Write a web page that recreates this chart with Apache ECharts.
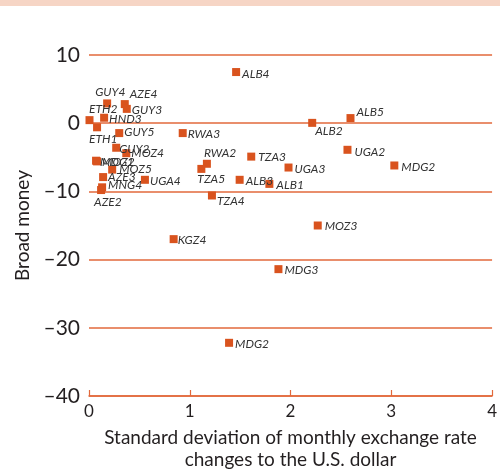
<!DOCTYPE html>
<html>
<head>
<meta charset="utf-8">
<script src="https://cdn.jsdelivr.net/npm/echarts@6/dist/echarts.min.js"></script>
<style>
html,body{margin:0;padding:0;background:#fff;}
#chart{width:500px;height:476px;}
</style>
</head>
<body>
<div id="chart"></div>
<script>
// ---- Data ----
const names = ['ALB4','GUY4','AZE4','GUY3','ETH2','HND3','ETH1','GUY5','RWA3','GUY2','MOZ4','MDG1','MOZ2','MOZ5','AZE3','MNG4','AZE2','UGA4','RWA2','TZA5','TZA3','ALB3','ALB1','UGA3','TZA4','ALB2','ALB5','UGA2','MDG2','KGZ4','MDG3','MDG2','MOZ3'];
const exchangeSD = [1.46,0.18,0.355,0.375,0.005,0.15,0.08,0.30,0.93,0.27,0.37,0.07,0.08,0.23,0.14,0.13,0.12,0.555,1.17,1.115,1.61,1.495,1.79,1.98,1.22,2.215,2.595,2.565,3.03,0.84,1.88,1.39,2.27];
const broadMoney = [7.5,2.9,2.8,2.1,0.45,0.8,-0.6,-1.45,-1.45,-3.6,-4.4,-5.5,-5.6,-6.8,-7.9,-9.4,-9.8,-8.3,-5.95,-6.7,-4.9,-8.3,-8.9,-6.5,-10.6,0.05,0.75,-3.9,-6.2,-17.0,-21.4,-32.2,-15.0];
const xTicks = [0,1,2,3,4];
const yTicks = [-40,-30,-20,-10,0,10];
const xTitle = 'Standard deviation of monthly exchange rate\nchanges to the U.S. dollar';
const yTitle = 'Broad money';

// ---- Label nudges (styling only) ----
const labelNudge = [[-1,2],[-19,-11],[-2,-9.5],[-2,1.5],[-7.5,-11],[-2,1.5],[-15,12],[-2,-1],[-2,1],[-4,1],[-2,0],[-3,1],[-2,1],[0,0],[-2,0],[-1,-2],[-14,12],[-2,1],[-10,-11],[-11,10],[0,1],[-1,1],[0,1.5],[-1,2],[-2,6],[-4,8.5],[-1,-6],[0,2],[0,1.5],[-3,1],[-1,1],[-1,1],[0,1]];

const orange = '#e2693b';
const chart = echarts.init(document.getElementById('chart'));
const pts = names.map((n,i)=>({
  name:n,
  value:[exchangeSD[i],broadMoney[i]],
  label:{offset:labelNudge[i]}
}));
chart.setOption({
  animation:false,
  backgroundColor:'#fff',
  graphic:[{type:'rect',left:0,top:0,shape:{width:500,height:6},style:{fill:'#f6d5c5'},z:-1}],
  grid:{left:89,right:1,top:55,bottom:77,containLabel:false},
  xAxis:{
    type:'value',min:xTicks[0],max:xTicks[xTicks.length-1],interval:1,
    axisLine:{show:true,onZero:false,lineStyle:{color:orange,width:1.5}},
    axisTick:{show:true,inside:true,length:6,lineStyle:{color:orange,width:1.2}},
    splitLine:{show:false},
    axisLabel:{color:'#231f20',fontSize:17,fontFamily:'Lato',margin:7},
    name:xTitle,nameLocation:'middle',nameGap:31,
    nameTextStyle:{color:'#231f20',fontSize:19,fontFamily:'Lato',lineHeight:22}
  },
  yAxis:{
    type:'value',min:yTicks[0],max:yTicks[yTicks.length-1],interval:10,
    axisLine:{show:false},axisTick:{show:false},
    splitLine:{show:true,lineStyle:{color:orange,width:1.5}},
    axisLabel:{color:'#231f20',fontSize:21,fontFamily:'Lato',margin:9,
      formatter:v=>String(v).replace('-','\u2013')},
    name:yTitle,nameLocation:'middle',nameGap:56,
    nameTextStyle:{color:'#231f20',fontSize:19,fontFamily:'Lato'}
  },
  series:[{
    type:'scatter',
    symbol:'rect',symbolSize:8,
    itemStyle:{color:'#d9531e',opacity:1},
    label:{show:true,position:'right',distance:3,formatter:'{b}',
      fontStyle:'italic',fontFamily:'Lato',fontSize:12,color:'#333'},
    data:pts
  }]
});
</script>
</body>
</html>
